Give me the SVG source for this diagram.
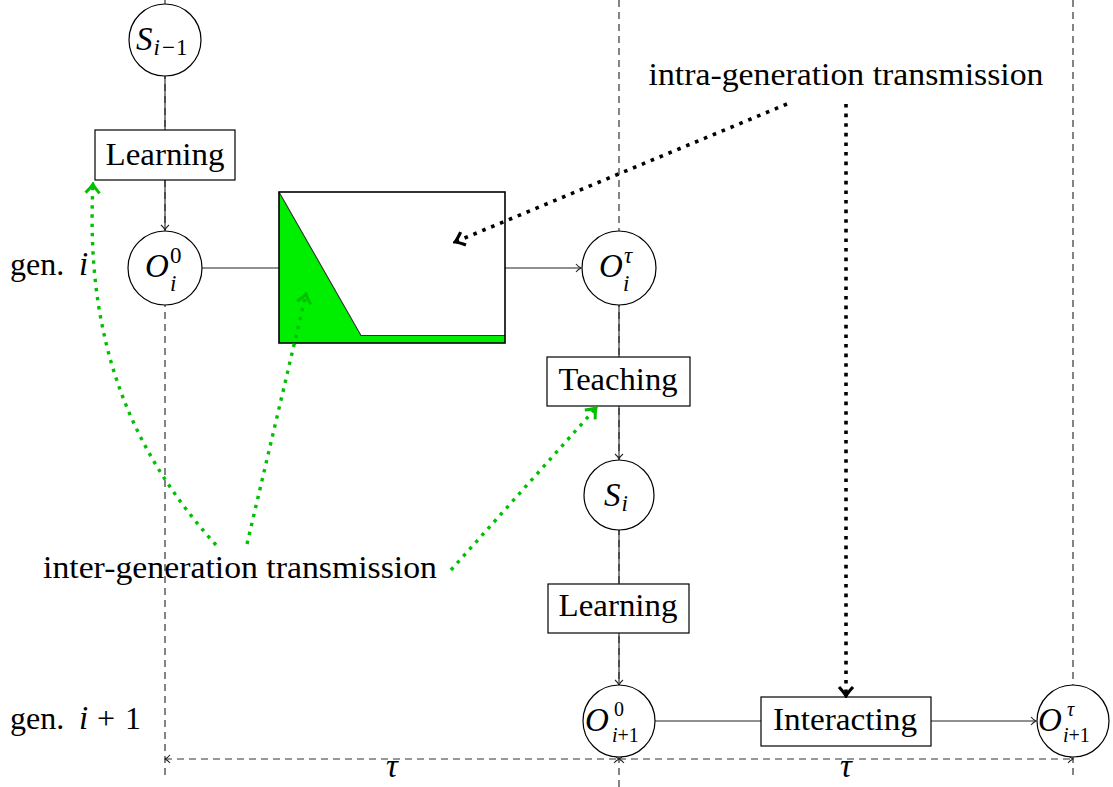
<svg xmlns="http://www.w3.org/2000/svg" width="1113" height="787" viewBox="0 0 1113 787">
<style>
text{font-family:"Liberation Serif","DejaVu Serif",serif;fill:#000}
.t{font-size:32px}
.m{font-size:33px;font-style:italic}
.s{font-size:23px;font-style:normal}
.si{font-size:23px;font-style:italic}
.s2{font-size:20px;font-style:normal}
.si2{font-size:20px;font-style:italic}
.dash{stroke:#333;stroke-width:1.2;stroke-dasharray:7 5;fill:none}
.con{stroke:#222;stroke-width:1.1;fill:none}
.node{fill:#fff;stroke:#000;stroke-width:1.2}
.gdot{stroke:#00c000;stroke-width:3.4;stroke-dasharray:3.4 5.8;fill:none}
.kdot{stroke:#000;stroke-width:3.6;stroke-dasharray:3.6 6;fill:none}
</style>
<defs>
<marker id="ar" viewBox="-6 -5 7 10" refX="0" refY="0" markerWidth="7" markerHeight="10" markerUnits="userSpaceOnUse" orient="auto-start-reverse">
<path d="M-5,-4 C-3,-1.5 -1,-0.5 0,0 C-1,0.5 -3,1.5 -5,4" fill="none" stroke="#222" stroke-width="1.1"/>
</marker>
<marker id="ag" viewBox="-12 -9 14 18" refX="0" refY="0" markerWidth="14" markerHeight="18" markerUnits="userSpaceOnUse" orient="auto">
<path d="M-9,-7 Q-3,-1.5 0,0 Q-3,1.5 -9,7" fill="none" stroke="#00c000" stroke-width="3"/>
</marker>
<marker id="ak" viewBox="-12 -9 14 18" refX="0" refY="0" markerWidth="14" markerHeight="18" markerUnits="userSpaceOnUse" orient="auto">
<path d="M-9,-7 Q-3,-1.5 0,0 Q-3,1.5 -9,7" fill="none" stroke="#000" stroke-width="3.2"/>
</marker>
</defs>
<rect width="1113" height="787" fill="#fff"/>

<g id="time-guides">
<line class="dash" x1="165" y1="0" x2="165" y2="780"/>
<line class="dash" x1="619" y1="0" x2="619" y2="787"/>
<line class="dash" x1="1073" y1="0" x2="1073" y2="780"/>
<line class="dash" x1="165" y1="759" x2="619" y2="759" marker-start="url(#ar)" marker-end="url(#ar)"/>
<line class="dash" x1="619" y1="759" x2="1073" y2="759" marker-start="url(#ar)" marker-end="url(#ar)"/>
<text class="m" x="392" y="777" text-anchor="middle">τ</text>
<text class="m" x="846" y="777" text-anchor="middle">τ</text>
</g>

<g id="connectors">
<line class="con" x1="165" y1="76" x2="165" y2="130"/>
<line class="con" x1="165" y1="180" x2="165" y2="230" marker-end="url(#ar)"/>
<line class="con" x1="202" y1="268" x2="279" y2="268"/>
<line class="con" x1="505" y1="268" x2="581" y2="268" marker-end="url(#ar)"/>
<line class="con" x1="619" y1="305" x2="619" y2="357"/>
<line class="con" x1="619" y1="406" x2="619" y2="459" marker-end="url(#ar)"/>
<line class="con" x1="619" y1="530" x2="619" y2="584"/>
<line class="con" x1="619" y1="633" x2="619" y2="685" marker-end="url(#ar)"/>
<line class="con" x1="655" y1="721" x2="761" y2="721"/>
<line class="con" x1="931" y1="721" x2="1036" y2="721" marker-end="url(#ar)"/>
</g>

<g id="S_im1">
<circle class="node" cx="165" cy="40" r="36"/>
<text class="m" x="136" y="50">S<tspan class="si" dy="5" dx="1">i</tspan><tspan class="s" dx="2">−</tspan><tspan class="s" dx="1">1</tspan></text>
</g>
<g id="learning1">
<rect class="node" x="95" y="130" width="140" height="50"/>
<text class="t" x="165" y="165" text-anchor="middle" textLength="119" lengthAdjust="spacingAndGlyphs">Learning</text>
</g>
<g id="O_i_0">
<circle class="node" cx="165" cy="268" r="37"/>
<text class="m" x="145" y="277">O<tspan class="s" x="170" y="263">0</tspan><tspan class="si" x="170" y="291">i</tspan></text>
</g>
<g id="process">
<rect x="279" y="192" width="226" height="151" fill="#fff"/>
<polygon points="279,192 361,335.5 505,335.5 505,343 279,343" fill="#00ee00"/>
<polyline points="279,192 361,335.5 505,335.5" fill="none" stroke="#333" stroke-width="1.1"/>
<rect x="279" y="192" width="226" height="151" fill="none" stroke="#000" stroke-width="1.6"/>
</g>
<g id="O_i_tau">
<circle class="node" cx="619" cy="268" r="37"/>
<text class="m" x="599" y="277">O<tspan class="si" x="624" y="263">τ</tspan><tspan class="si" x="623" y="291">i</tspan></text>
</g>
<g id="teaching">
<rect class="node" x="547" y="357" width="143" height="49"/>
<text class="t" x="618" y="390" text-anchor="middle" textLength="119" lengthAdjust="spacingAndGlyphs">Teaching</text>
</g>
<g id="S_i">
<circle class="node" cx="619" cy="495" r="35"/>
<text class="m" x="604" y="506">S<tspan class="si" dy="5" dx="1">i</tspan></text>
</g>
<g id="learning2">
<rect class="node" x="548" y="584" width="141" height="49"/>
<text class="t" x="618" y="616" text-anchor="middle" textLength="119" lengthAdjust="spacingAndGlyphs">Learning</text>
</g>
<g id="O_ip1_0">
<circle class="node" cx="619" cy="721" r="36"/>
<text class="m" x="585" y="731">O<tspan class="s2" x="614" y="716">0</tspan><tspan class="si2" x="612" y="742">i</tspan><tspan class="s2">+1</tspan></text>
</g>
<g id="interacting">
<rect class="node" x="761" y="697" width="170" height="49"/>
<text class="t" x="845" y="730" text-anchor="middle" textLength="144" lengthAdjust="spacingAndGlyphs">Interacting</text>
</g>
<g id="O_ip1_tau">
<circle class="node" cx="1073" cy="721" r="36"/>
<text class="m" x="1038" y="731">O<tspan class="si2" x="1067" y="716">τ</tspan><tspan class="si2" x="1063" y="742">i</tspan><tspan class="s2">+1</tspan></text>
</g>

<g id="gen-labels">
<text class="t" x="10" y="275">gen.<tspan class="m" x="79">i</tspan></text>
<text class="t" x="10" y="729">gen.<tspan class="m" x="79">i</tspan><tspan x="97">+</tspan><tspan x="125">1</tspan></text>
</g>

<g id="intra">
<text class="t" x="846" y="85" text-anchor="middle" textLength="395" lengthAdjust="spacingAndGlyphs">intra-generation transmission</text>
<path class="kdot" d="M787,104 L455,242" marker-end="url(#ak)"/>
<path class="kdot" d="M846,104 L846,696" marker-end="url(#ak)"/>
</g>

<g id="inter">
<text class="t" x="240" y="578" text-anchor="middle" textLength="394" lengthAdjust="spacingAndGlyphs">inter-generation transmission</text>
<path class="gdot" d="M216,545 C130,450 85,340 93,184" marker-end="url(#ag)"/>
<path class="gdot" d="M247,544 L306,294" marker-end="url(#ag)"/>
<path class="gdot" d="M451,570 L596,408" marker-end="url(#ag)"/>
</g>
</svg>
